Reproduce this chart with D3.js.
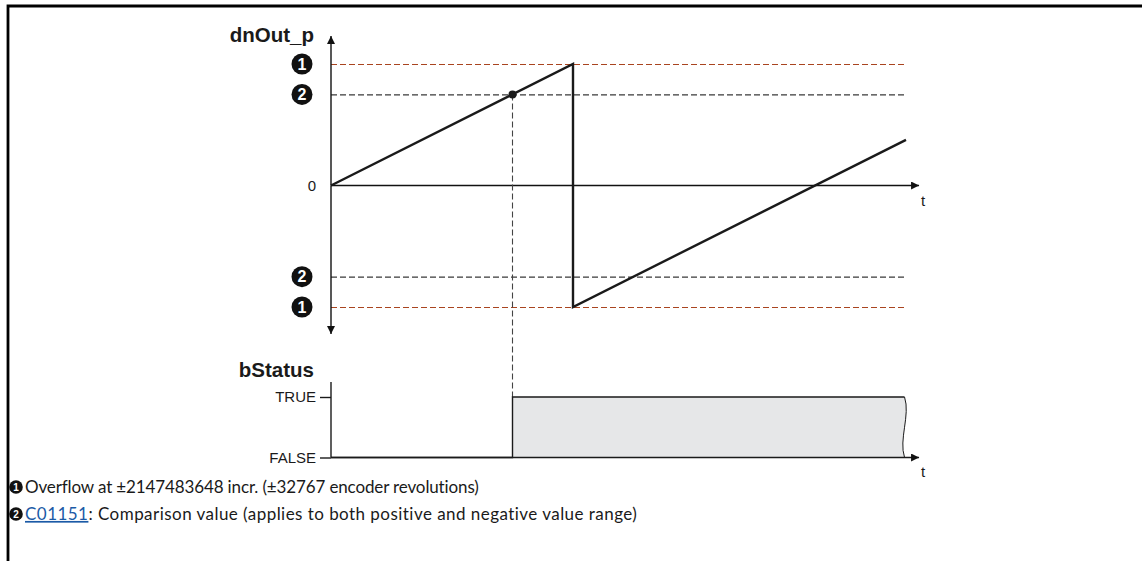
<!DOCTYPE html>
<html>
<head>
<meta charset="utf-8">
<script src="https://cdn.jsdelivr.net/npm/d3@7"></script>
<style>
  html, body { margin: 0; padding: 0; background: #fff; }
  svg { display: block; }
</style>
</head>
<body>
<svg id="chart" width="1142" height="561"></svg>
<script>
// ---- data ----
const timePoints = [0, 1, 1, 2.376];          // sawtooth corner times
const dnOutValues = [0, 1, -1, 0.376];        // dnOut_p values
const limitLevels = [1, 0.75, -0.75, -1];     // overflow / comparison levels
const limitMarks = ["1", "2", "2", "1"];
const limitKinds = ["overflow", "compare", "compare", "overflow"];
const compareTime = 0.75;                     // moment dnOut_p reaches comparison value
const statusTimes = [0, 0.75, 0.75, 2.37];
const statusValues = [0, 0, 1, 1];
const statusTicks = ["FALSE", "TRUE"];
const footnotes = [
  { mark: "1", link: null, text: "Overflow at ±2147483648 incr. (±32767 encoder revolutions)", width: 454 },
  { mark: "2", link: "C01151", text: ": Comparison value (applies to both positive and negative value range)", width: 613 }
];

const svg = d3.select("#chart");
const AXF = "'Liberation Sans', Arial, sans-serif";
const TXF = "Lato, 'Open Sans', sans-serif";

// frame (top + left border)
svg.append("path").attr("d", "M8,561 V6 H1142").attr("fill", "none")
  .attr("stroke", "#000").attr("stroke-width", 2.8);

// arrow marker
const defs = svg.append("defs");
defs.append("marker").attr("id", "arr").attr("viewBox", "0 0 10 10")
  .attr("refX", 10).attr("refY", 5).attr("markerWidth", 10).attr("markerHeight", 8)
  .attr("markerUnits", "userSpaceOnUse").attr("orient", "auto")
  .append("path").attr("d", "M0,0 L10,5 L0,10 Z").attr("fill", "#111");

// ---- scales ----
const x = d3.scaleLinear().domain([0, 1]).range([331, 573]);
const y = d3.scaleLinear().domain([-1, 1]).range([307, 64]);
const yS = d3.scaleLinear().domain([0, 1]).range([457.5, 397]);
const tEnd = 2.376, tAxis = 2.43;

// ---- upper panel ----
limitLevels.forEach((v, i) => {
  svg.append("line").attr("x1", x(0)).attr("x2", x(tEnd)).attr("y1", y(v) + 0.5).attr("y2", y(v) + 0.5)
    .attr("stroke", limitKinds[i] === "overflow" ? "#a9441f" : "#3a3a3a")
    .attr("stroke-width", 1.1).attr("stroke-dasharray", "6,3");
  const g = svg.append("g").attr("transform", `translate(302,${y(v)})`);
  g.append("circle").attr("r", 10.5).attr("fill", "#111");
  g.append("text").text(limitMarks[i]).attr("text-anchor", "middle").attr("dy", "0.36em")
    .attr("fill", "#fff").attr("font-family", AXF).attr("font-weight", "bold").attr("font-size", 16);
});

// x axis (zero line)
svg.append("line").attr("x1", x(0)).attr("x2", x(tAxis)).attr("y1", y(0)).attr("y2", y(0))
  .attr("stroke", "#111").attr("stroke-width", 1.4).attr("marker-end", "url(#arr)");
// y axis (both directions)
svg.append("line").attr("x1", x(0)).attr("x2", x(0)).attr("y1", y(0)).attr("y2", 36)
  .attr("stroke", "#111").attr("stroke-width", 1.4).attr("marker-end", "url(#arr)");
svg.append("line").attr("x1", x(0)).attr("x2", x(0)).attr("y1", y(0)).attr("y2", 334)
  .attr("stroke", "#111").attr("stroke-width", 1.4).attr("marker-end", "url(#arr)");

svg.append("text").text("dnOut_p").attr("x", 314).attr("y", 42).attr("text-anchor", "end")
  .attr("font-family", AXF).attr("font-weight", "bold").attr("font-size", 20.5).attr("fill", "#1a1a1a");
svg.append("text").text("0").attr("x", 316).attr("y", y(0)).attr("dy", "0.36em").attr("text-anchor", "end")
  .attr("font-family", AXF).attr("font-size", 15).attr("fill", "#1a1a1a");
svg.append("text").text("t").attr("x", 923).attr("y", 206).attr("text-anchor", "middle")
  .attr("font-family", AXF).attr("font-size", 15).attr("fill", "#1a1a1a");

// vertical dashed at comparison time
svg.append("line").attr("x1", x(compareTime)).attr("x2", x(compareTime))
  .attr("y1", y(0.75)).attr("y2", yS(1))
  .attr("stroke", "#444").attr("stroke-width", 1.1).attr("stroke-dasharray", "6,3");

// sawtooth signal
const line = d3.line().x(d => x(d[0])).y(d => y(d[1]));
svg.append("path").datum(d3.zip(timePoints, dnOutValues)).attr("d", line)
  .attr("fill", "none").attr("stroke", "#1a1a1a").attr("stroke-width", 2.4).attr("stroke-linejoin", "miter");

svg.append("circle").attr("cx", x(compareTime)).attr("cy", y(0.75)).attr("r", 4).attr("fill", "#1a1a1a");

// ---- lower panel (bStatus) ----
const tOn = statusTimes[1], tOff = statusTimes[3];
const xR = x(tOff);
svg.append("path")
  .attr("d", `M${x(tOn)},${yS(0)} V${yS(1)} H${xR} C${xR + 6},${yS(1) + 18} ${xR - 6},${yS(0) - 18} ${xR},${yS(0)} Z`)
  .attr("fill", "#e6e7e8").attr("stroke", "none");
svg.append("path").datum(d3.zip(statusTimes, statusValues))
  .attr("d", d3.line().x(d => x(d[0])).y(d => yS(d[1])))
  .attr("fill", "none").attr("stroke", "#1a1a1a").attr("stroke-width", 1.4);
svg.append("path")
  .attr("d", `M${xR},${yS(1)} C${xR + 6},${yS(1) + 18} ${xR - 6},${yS(0) - 18} ${xR},${yS(0)}`)
  .attr("fill", "none").attr("stroke", "#1a1a1a").attr("stroke-width", 1);

svg.append("line").attr("x1", x(0)).attr("x2", x(0)).attr("y1", 382).attr("y2", yS(0))
  .attr("stroke", "#1a1a1a").attr("stroke-width", 1.4);
svg.append("line").attr("x1", x(0)).attr("x2", x(tAxis)).attr("y1", yS(0)).attr("y2", yS(0))
  .attr("stroke", "#1a1a1a").attr("stroke-width", 1.4).attr("marker-end", "url(#arr)");

const yAxisS = d3.axisLeft(yS).tickValues([0, 1]).tickFormat(d => statusTicks[d]).tickSize(11).tickPadding(4);
const ga = svg.append("g").attr("transform", `translate(${x(0)},0)`).call(yAxisS);
ga.select(".domain").remove();
ga.selectAll(".tick line").attr("stroke", "#1a1a1a").attr("stroke-width", 1.4);
ga.selectAll(".tick text").attr("font-family", AXF).attr("font-size", 15).attr("fill", "#1a1a1a");

svg.append("text").text("bStatus").attr("x", 314).attr("y", 377).attr("text-anchor", "end")
  .attr("font-family", AXF).attr("font-weight", "bold").attr("font-size", 20.5).attr("fill", "#1a1a1a");
svg.append("text").text("t").attr("x", 923).attr("y", 477).attr("text-anchor", "middle")
  .attr("font-family", AXF).attr("font-size", 15).attr("fill", "#1a1a1a");

// ---- footnotes ----
footnotes.forEach((f, i) => {
  const cy = 487 + i * 27;
  svg.append("circle").attr("cx", 16).attr("cy", cy).attr("r", 6.8).attr("fill", "#111");
  svg.append("text").text(f.mark).attr("x", 16).attr("y", cy).attr("dy", "0.35em").attr("text-anchor", "middle")
    .attr("fill", "#fff").attr("font-family", AXF).attr("font-weight", "bold").attr("font-size", 10);
  const t = svg.append("text").attr("x", 25).attr("y", cy).attr("dy", "0.35em")
    .attr("font-family", TXF).attr("font-size", 17).attr("fill", "#1a1a1a");
  if (f.link) {
    t.append("tspan").text(f.link).attr("fill", "#1b5aa6").attr("text-decoration", "underline");
  }
  t.append("tspan").text(f.text);
  // stretch/condense spacing to the reference line width
  const w = t.node().getComputedTextLength();
  const n = (f.link ? f.link.length : 0) + f.text.length;
  t.attr("letter-spacing", ((f.width - w) / n).toFixed(3));
});
</script>
</body>
</html>
